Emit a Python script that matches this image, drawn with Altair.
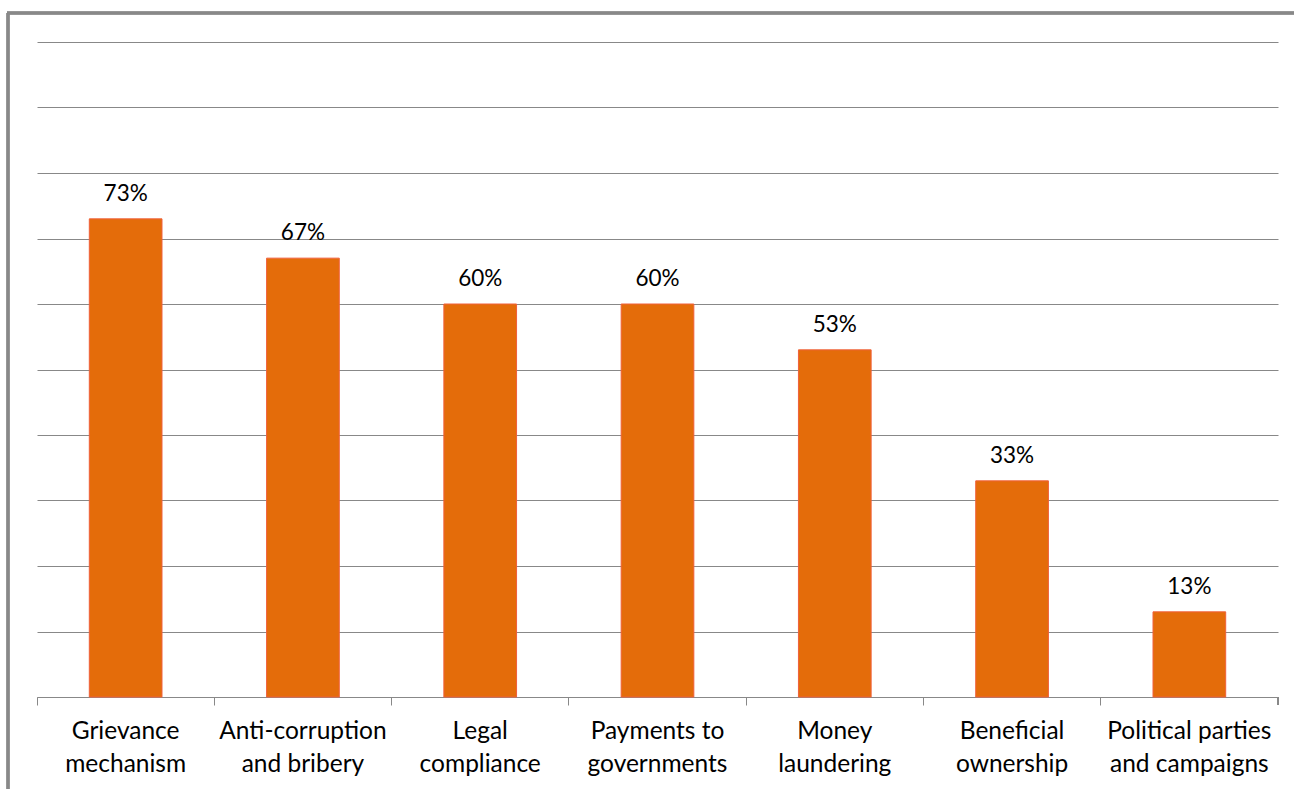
import altair as alt
import pandas as pd

categories = [
    "Grievance|mechanism",
    "Anti-corruption|and bribery",
    "Legal|compliance",
    "Payments to|governments",
    "Money|laundering",
    "Beneficial|ownership",
    "Political parties|and campaigns",
]
values = [0.73, 0.67, 0.60, 0.60, 0.53, 0.33, 0.13]
labels = ["73%", "67%", "60%", "60%", "53%", "33%", "13%"]
grid_values = [0.0, 0.1, 0.2, 0.3, 0.4, 0.5, 0.6, 0.7, 0.8, 0.9, 1.0]

df = pd.DataFrame({"cat": categories, "val": values, "lab": labels})

W, H = 1241, 655
FONT = "Lato"

x = alt.X(
    "cat:N",
    sort=None,
    scale=alt.Scale(paddingInner=0, paddingOuter=0),
    axis=alt.Axis(
        title=None,
        labelAngle=0,
        labelExpr="split(datum.value, '|')",
        labelFont=FONT,
        labelFontSize=24.5,
        labelColor="#000000",
        labelLineHeight=33,
        labelPadding=14,
        labelLimit=300,
        bandPosition=0,
        ticks=True,
        tickSize=8,
        tickColor="#888888",
        tickWidth=1,
        domainColor="#888888",
        domainWidth=1,
        grid=False,
    ),
)
y = alt.Y(
    "val:Q",
    scale=alt.Scale(domain=[0, 1], nice=False),
    axis=alt.Axis(
        title=None,
        labels=False,
        ticks=False,
        domain=False,
        grid=True,
        gridColor="#888888",
        gridWidth=1,
        values=grid_values,
    ),
)

bars = alt.Chart(df).mark_bar(
    width=alt.RelativeBandSize(0.41), color="#E46C0A", stroke="#F0603A", strokeWidth=1
).encode(x=x, y=y)

text = alt.Chart(df).mark_text(
    font=FONT, fontSize=22.5, color="#000000", baseline="alphabetic", dy=-18
).encode(x=alt.X("cat:N", sort=None), y="val:Q", text="lab:N")

end_tick = alt.Chart(df).mark_rule(color="#888888", strokeWidth=1).encode(
    x=alt.value(W), y=alt.value(H), y2=alt.value(H + 8)
)

frame_left = alt.Chart(df).mark_rule(color="#888888", strokeWidth=2.5, clip=False).encode(
    x=alt.value(-29), y=alt.value(-29), y2=alt.value(H + 120)
)
frame_top = alt.Chart(df).mark_rule(color="#888888", strokeWidth=2.5, clip=False).encode(
    x=alt.value(-30), x2=alt.value(W + 60), y=alt.value(-29)
)

chart = (
    alt.layer(bars, text, end_tick, frame_left, frame_top)
    .properties(
        width=W,
        height=H,
        autosize=alt.AutoSizeParams(type="none"),
        padding={"left": 37, "top": 42, "right": 16, "bottom": 92},
        background="#ffffff",
    )
    .configure_view(stroke=None)
)

chart.save("out.html", embed_options={"renderer": "svg", "actions": False})
